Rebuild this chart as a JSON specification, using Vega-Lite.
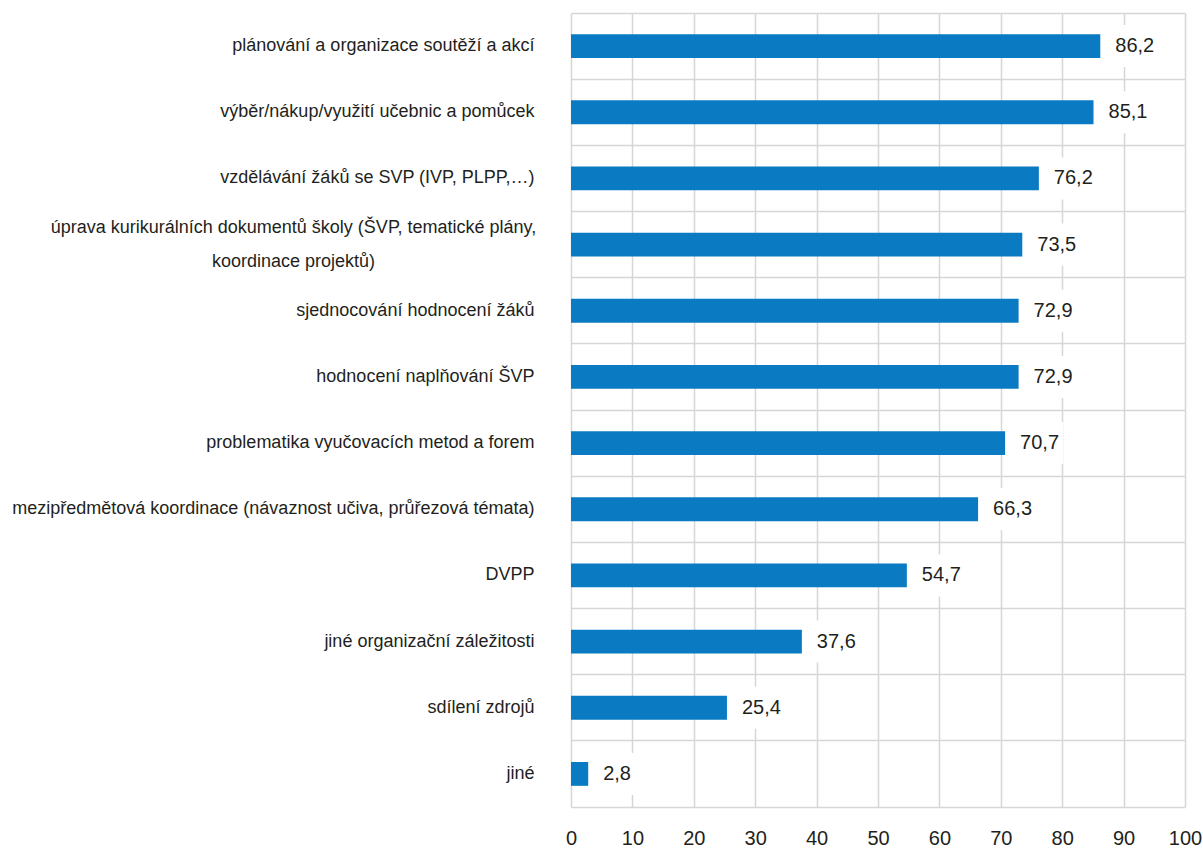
{
  "$schema": "https://vega.github.io/schema/vega-lite/v6.json",
  "width": 614,
  "height": 794,
  "autosize": {"type": "none"},
  "padding": {"left": 571, "top": 13, "right": 18, "bottom": 41},
  "background": "white",
  "config": {
    "locale": {"number": {"decimal": ",", "thousands": " ", "grouping": [3], "currency": ["", " Kč"]}},
    "view": {"stroke": null},
    "font": "Liberation Sans Narrow, Liberation Sans, Arial, sans-serif"
  },
  "data": {
    "values": [
      {"kategorie": "plánování a organizace soutěží a akcí", "hodnota": 86.2},
      {"kategorie": "výběr/nákup/využití učebnic a pomůcek", "hodnota": 85.1},
      {"kategorie": "vzdělávání žáků se SVP (IVP, PLPP,…)", "hodnota": 76.2},
      {"kategorie": "úprava kurikurálních dokumentů školy (ŠVP, tematické plány,|koordinace projektů)", "hodnota": 73.5},
      {"kategorie": "sjednocování hodnocení žáků", "hodnota": 72.9},
      {"kategorie": "hodnocení naplňování ŠVP", "hodnota": 72.9},
      {"kategorie": "problematika vyučovacích metod a forem", "hodnota": 70.7},
      {"kategorie": "mezipředmětová koordinace (návaznost učiva, průřezová témata)", "hodnota": 66.3},
      {"kategorie": "DVPP", "hodnota": 54.7},
      {"kategorie": "jiné organizační záležitosti", "hodnota": 37.6},
      {"kategorie": "sdílení zdrojů", "hodnota": 25.4},
      {"kategorie": "jiné", "hodnota": 2.8}
    ]
  },
  "encoding": {
    "y": {
      "field": "kategorie",
      "type": "nominal",
      "sort": null,
      "title": null,
      "scale": {"paddingInner": 0, "paddingOuter": 0},
      "axis": {
        "domain": false,
        "ticks": false,
        "grid": true,
        "bandPosition": 0,
        "gridColor": "#d6d6d6",
        "gridWidth": 1.5,
        "labelFontSize": 18,
        "labelColor": "#231f20",
        "labelPadding": {"condition": {"test": "indexof(datum.value, '|') >= 0", "value": 278}, "value": 37},
        "labelAlign": {"condition": {"test": "indexof(datum.value, '|') >= 0", "value": "center"}, "value": "right"},
        "labelLimit": 600,
        "labelLineHeight": 34,
        "labelOffset": {"condition": {"test": "indexof(datum.value, '|') >= 0", "value": -17}, "value": 0},
        "labelExpr": "split(datum.label, '|')"
      }
    }
  },
  "layer": [
    {
      "mark": {"type": "bar", "color": "#0a7bc2", "height": {"band": 0.36}},
      "encoding": {
        "x": {
          "field": "hodnota",
          "type": "quantitative",
          "title": null,
          "scale": {"domain": [0, 100], "nice": false},
          "axis": {
            "values": [0, 10, 20, 30, 40, 50, 60, 70, 80, 90, 100],
            "grid": true,
            "gridColor": "#d6d6d6",
            "gridWidth": 1.5,
            "ticks": false,
            "domain": true,
            "domainColor": "#d6d6d6",
            "domainWidth": 1.5,
            "labelFontSize": 20,
            "labelColor": "#231f20",
            "labelPadding": 21,
            "labelFlush": false
          }
        }
      }
    },
    {
      "mark": {"type": "bar", "color": "white", "height": 42, "xOffset": 7, "x2Offset": 58},
      "encoding": {
        "x": {"field": "hodnota", "type": "quantitative"},
        "x2": {"field": "hodnota"}
      }
    },
    {
      "mark": {"type": "text", "align": "left", "baseline": "middle", "dx": 15, "fontSize": 20, "color": "#231f20"},
      "encoding": {
        "x": {"field": "hodnota", "type": "quantitative"},
        "text": {"field": "hodnota", "type": "quantitative", "format": ".1f"}
      }
    }
  ]
}
